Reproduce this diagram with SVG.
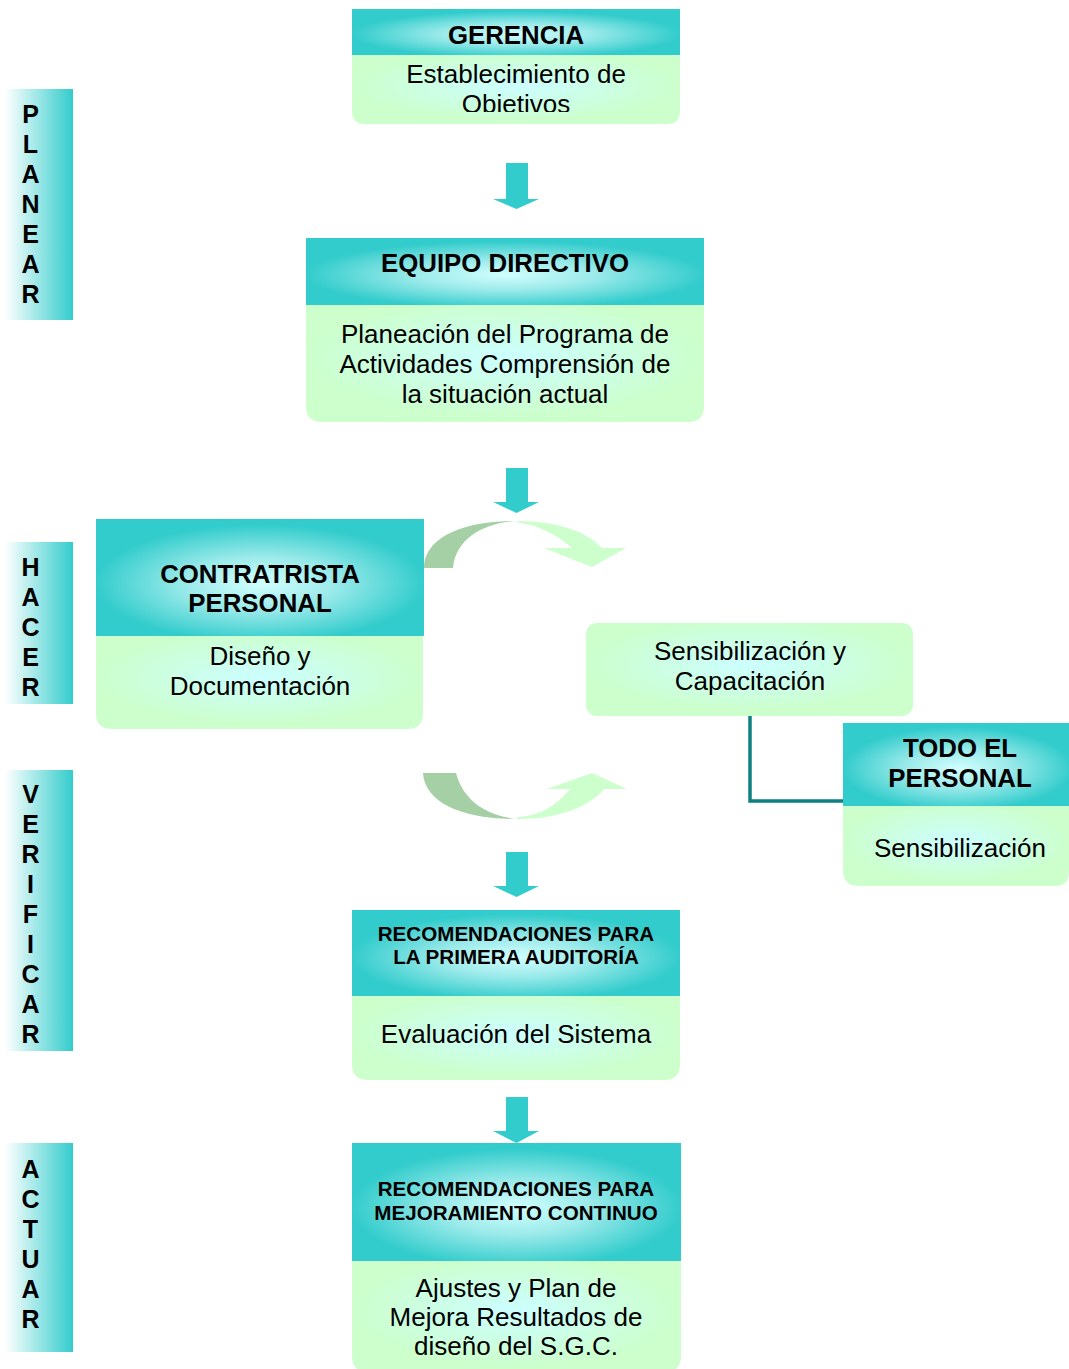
<svg xmlns="http://www.w3.org/2000/svg" width="1069" height="1369" viewBox="0 0 1069 1369">
  <defs>
    <radialGradient id="hdrFill" cx="50%" cy="55%" r="50%">
      <stop offset="0" stop-color="#d2ffff"/>
      <stop offset="0.45" stop-color="#9ceaea"/>
      <stop offset="1" stop-color="#33cccc"/>
    </radialGradient>
    <radialGradient id="bodyFill" cx="50%" cy="45%" r="50%">
      <stop offset="0" stop-color="#ccffff"/>
      <stop offset="1" stop-color="#ccffcc"/>
    </radialGradient>
    <linearGradient id="barFill" x1="0" y1="0" x2="1" y2="0">
      <stop offset="0" stop-color="#ffffff"/>
      <stop offset="1" stop-color="#33cccc"/>
    </linearGradient>
    <clipPath id="clipGerencia">
      <rect x="352" y="55" width="328" height="57"/>
    </clipPath>
  </defs>
  <style>
    text { font-family: "Liberation Sans", Arial, sans-serif; fill: #000; text-anchor: middle; }
    .ttl { font-size: 25.8px; font-weight: bold; }
    .ttl-s { font-size: 20.6px; font-weight: bold; }
    .txt { font-size: 26px; }
    .bar-letter { font-size: 25px; font-weight: bold; }
    .hdr { fill: url(#hdrFill); }
    .body { fill: url(#bodyFill); }
    .bar { fill: url(#barFill); }
    .down { fill: #33cccc; }
    .curve-dark { fill: #a5d0a5; }
    .curve-light { fill: #ccffcc; }
    .link { fill: none; stroke: #0e8080; stroke-width: 3.5; }
  </style>

  <!-- phase bars on the left -->
  <g id="bar-planear">
    <rect class="bar" x="5" y="89" width="68" height="231"/>
    <text class="bar-letter" x="30.5" y="123">P</text>
    <text class="bar-letter" x="30.5" y="153">L</text>
    <text class="bar-letter" x="30.5" y="183">A</text>
    <text class="bar-letter" x="30.5" y="213">N</text>
    <text class="bar-letter" x="30.5" y="243">E</text>
    <text class="bar-letter" x="30.5" y="273">A</text>
    <text class="bar-letter" x="30.5" y="303">R</text>
  </g>
  <g id="bar-hacer">
    <rect class="bar" x="5" y="542" width="68" height="162"/>
    <text class="bar-letter" x="30.5" y="576">H</text>
    <text class="bar-letter" x="30.5" y="606">A</text>
    <text class="bar-letter" x="30.5" y="636">C</text>
    <text class="bar-letter" x="30.5" y="666">E</text>
    <text class="bar-letter" x="30.5" y="696">R</text>
  </g>
  <g id="bar-verificar">
    <rect class="bar" x="5" y="770" width="68" height="281"/>
    <text class="bar-letter" x="30.5" y="803">V</text>
    <text class="bar-letter" x="30.5" y="833">E</text>
    <text class="bar-letter" x="30.5" y="863">R</text>
    <text class="bar-letter" x="30.5" y="893">I</text>
    <text class="bar-letter" x="30.5" y="923">F</text>
    <text class="bar-letter" x="30.5" y="953">I</text>
    <text class="bar-letter" x="30.5" y="983">C</text>
    <text class="bar-letter" x="30.5" y="1013">A</text>
    <text class="bar-letter" x="30.5" y="1043">R</text>
  </g>
  <g id="bar-actuar">
    <rect class="bar" x="5" y="1143" width="68" height="209"/>
    <text class="bar-letter" x="30.5" y="1178">A</text>
    <text class="bar-letter" x="30.5" y="1208">C</text>
    <text class="bar-letter" x="30.5" y="1238">T</text>
    <text class="bar-letter" x="30.5" y="1268">U</text>
    <text class="bar-letter" x="30.5" y="1298">A</text>
    <text class="bar-letter" x="30.5" y="1328">R</text>
  </g>

  <!-- connectors: block arrows, curved arrows and the elbow link -->
  <g id="connectors">
    <path class="down" d="M506,163 H528 V199 H539 L516.5,209 L493,199 H506 Z"/>
    <path class="down" d="M506,468 H528 V502 H539 L516.5,513 L493,502 H506 Z"/>
    <path class="down" d="M506,852 H528 V886 H539 L516.5,897 L493,886 H506 Z"/>
    <path class="down" d="M506,1097 H528 V1131 H539 L516.5,1143 L493,1131 H506 Z"/>

    <!-- upper curved arrow -->
    <path class="curve-dark" d="M424,568 C424,540 458,521 516,521 C484,523 456,538 453,568 Z"/>
    <path class="curve-light" d="M516,521 C560,521 588,533 602,548 L626,548 L592,567 L544,548 L572,548 C556,534 538,525 516,522 Z"/>

    <!-- lower curved arrow -->
    <path class="curve-dark" d="M423,773 L456,773 C463,800 486,816 517,819 C462,819 425,803 423,773 Z"/>
    <path class="curve-light" d="M517,819 C560,819 590,806 604,789 L627,789 L592,773 L547,789 L570,789 C556,806 540,816 517,817 Z"/>

    <polyline class="link" points="750,716 750,801 843,801"/>
  </g>

  <!-- nodes -->
  <g id="node-gerencia">
    <rect class="hdr" x="352" y="9" width="328" height="46"/>
    <path class="body" d="M352,55 H680 V111 Q680,124 667,124 H365 Q352,124 352,111 Z"/>
    <text class="ttl" x="516" y="44">GERENCIA</text>
    <g clip-path="url(#clipGerencia)">
      <text class="txt" x="516" y="83">Establecimiento de</text>
      <text class="txt" x="516" y="113">Obietivos</text>
    </g>
  </g>

  <g id="node-equipo-directivo">
    <rect class="hdr" x="306" y="238" width="398" height="67"/>
    <path class="body" d="M306,305 H704 V406 Q704,422 688,422 H322 Q306,422 306,406 Z"/>
    <text class="ttl" x="505" y="272">EQUIPO DIRECTIVO</text>
    <text class="txt" x="505" y="343">Planeación del Programa de</text>
    <text class="txt" x="505" y="373">Actividades Comprensión de</text>
    <text class="txt" x="505" y="403">la situación actual</text>
  </g>

  <g id="node-contratrista">
    <rect class="hdr" x="96" y="519" width="328" height="117"/>
    <path class="body" d="M96,636 H423 V713 Q423,729 407,729 H112 Q96,729 96,713 Z"/>
    <text class="ttl" x="260" y="583">CONTRATRISTA</text>
    <text class="ttl" x="260" y="612">PERSONAL</text>
    <text class="txt" x="260" y="665">Diseño y</text>
    <text class="txt" x="260" y="695">Documentación</text>
  </g>

  <g id="node-sensibilizacion-capacitacion">
    <rect class="body" x="586" y="623" width="327" height="93" rx="11"/>
    <text class="txt" x="750" y="660">Sensibilización y</text>
    <text class="txt" x="750" y="690">Capacitación</text>
  </g>

  <g id="node-todo-el-personal">
    <rect class="hdr" x="843" y="723" width="230" height="83"/>
    <path class="body" d="M843,806 H1069 V872 Q1069,886 1055,886 H859 Q843,886 843,870 Z"/>
    <text class="ttl" x="960" y="757">TODO EL</text>
    <text class="ttl" x="960" y="787">PERSONAL</text>
    <text class="txt" x="960" y="857">Sensibilización</text>
  </g>

  <g id="node-primera-auditoria">
    <rect class="hdr" x="352" y="910" width="328" height="86"/>
    <path class="body" d="M352,996 H680 V1064 Q680,1080 664,1080 H368 Q352,1080 352,1064 Z"/>
    <text class="ttl-s" x="516" y="941">RECOMENDACIONES PARA</text>
    <text class="ttl-s" x="516" y="964">LA PRIMERA AUDITORÍA</text>
    <text class="txt" x="516" y="1043">Evaluación del Sistema</text>
  </g>

  <g id="node-mejoramiento">
    <rect class="hdr" x="352" y="1143" width="329" height="118"/>
    <path class="body" d="M352,1261 H681 V1356 Q681,1372 665,1372 H368 Q352,1372 352,1356 Z"/>
    <text class="ttl-s" x="516" y="1196">RECOMENDACIONES PARA</text>
    <text class="ttl-s" x="516" y="1220">MEJORAMIENTO CONTINUO</text>
    <text class="txt" x="516" y="1297">Ajustes y Plan de</text>
    <text class="txt" x="516" y="1326">Mejora Resultados de</text>
    <text class="txt" x="516" y="1355">diseño del S.G.C.</text>
  </g>
</svg>
